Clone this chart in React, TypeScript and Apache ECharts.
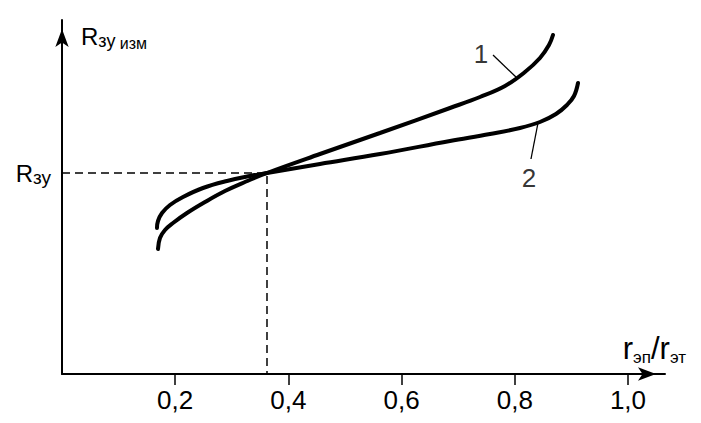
import React, { useEffect, useRef } from "react";
import * as echarts from "echarts";

// x values: r_эп / r_эт ; y values: R_зу изм (arbitrary units, axis 0..354)
const curve1X = [0.1696, 0.1731, 0.1820, 0.1961, 0.2208, 0.2527, 0.2880, 0.3233, 0.3622, 0.4558, 0.5618, 0.6855, 0.7385, 0.7827, 0.8180, 0.8445, 0.8604, 0.8675];
const curve1Y = [125, 136, 144, 151, 161, 172, 183, 192, 201, 220, 241, 266, 277, 288, 302, 316, 329, 339];
const curve2X = [0.1678, 0.1696, 0.1767, 0.1908, 0.2138, 0.2491, 0.2915, 0.3322, 0.3622, 0.4558, 0.5618, 0.6855, 0.7562, 0.8092, 0.8445, 0.8728, 0.8922, 0.9046, 0.9117];
const curve2Y = [146, 153, 161, 169, 177, 186, 193, 198, 201, 210, 220, 233, 240, 246, 252, 260, 269, 278, 291];

const xTicks = [0.2, 0.4, 0.6, 0.8, 1.0];
const xMax = 1.0654;
const yMax = 354;
const rzuX = 0.3622; // intersection point
const rzuY = 201;

const leader1 = [[0.7615, 319], [0.8039, 296]];
const leader2 = [[0.8286, 215], [0.841, 251]];
const label1 = [0.7403, 320];
const label2 = [0.8251, 196];

const FONT = "Liberation Sans, Arial, sans-serif";

export default function App() {
  const ref = useRef<HTMLDivElement>(null);
  useEffect(() => {
    if (!ref.current) return;
    const chart = echarts.init(ref.current, null, { renderer: "svg" });
    const zip = (xs: number[], ys: number[]) => xs.map((x, i) => [x, ys[i]]);
    const curveStyle = { color: "#000", width: 4, cap: "round" as const };
    chart.setOption({
      animation: false,
      backgroundColor: "#fff",
      textStyle: { fontFamily: FONT, color: "#000" },
      grid: { left: 62, right: 36, top: 20, bottom: 49, containLabel: false },
      xAxis: {
        type: "value",
        min: 0,
        max: xMax,
        name: "{r|r}{s|эп}{r|/r}{s|эт}",
        nameLocation: "end",
        nameGap: 21,
        nameTextStyle: {
          align: "right",
          verticalAlign: "bottom",
          padding: [0, 0, 10, 0],
          rich: {
            r: { fontSize: 31, fontFamily: FONT, color: "#000", verticalAlign: "bottom" },
            s: { fontSize: 17, fontFamily: FONT, color: "#000", verticalAlign: "bottom", padding: [0, 0, -2, 0] },
          },
        },
        axisLine: {
          show: true,
          symbol: ["none", "arrow"],
          symbolSize: [10, 18],
          symbolOffset: [0, -9],
          lineStyle: { color: "#000", width: 2 },
        },
        axisTick: { show: true, length: 11, lineStyle: { color: "#000", width: 1.5 }, customValues: xTicks },
        axisLabel: {
          customValues: xTicks,
          margin: 13,
          fontSize: 26,
          fontFamily: FONT,
          color: "#000",
          formatter: (v: number) => v.toFixed(1).replace(".", ","),
        },
        splitLine: { show: false },
      },
      yAxis: {
        type: "value",
        min: 0,
        max: yMax,
        name: "{r|R}{s|зу}{t| изм}",
        nameLocation: "end",
        nameGap: -16,
        nameTextStyle: {
          align: "left",
          verticalAlign: "middle",
          padding: [0, 0, 0, 19],
          rich: {
            r: { fontSize: 24, fontFamily: FONT, color: "#000", verticalAlign: "bottom" },
            s: { fontSize: 18, fontFamily: FONT, color: "#000", verticalAlign: "bottom", padding: [0, 0, -2, 0] },
            t: { fontSize: 16, fontFamily: FONT, color: "#000", verticalAlign: "bottom", padding: [0, 0, -3, 0] },
          },
        },
        axisLine: {
          show: true,
          symbol: ["none", "arrow"],
          symbolSize: [10, 18],
          symbolOffset: [0, -9],
          lineStyle: { color: "#000", width: 2 },
        },
        axisTick: { show: false },
        axisLabel: {
          customValues: [rzuY],
          margin: 11,
          formatter: () => "{r|R}{s|зу}",
          rich: {
            r: { fontSize: 24, fontFamily: FONT, color: "#000", verticalAlign: "bottom" },
            s: { fontSize: 19, fontFamily: FONT, color: "#000", verticalAlign: "bottom", padding: [0, 0, -2, 0] },
          },
        },
        splitLine: { show: false },
      },
      series: [
        {
          type: "line",
          data: [[0, rzuY], [rzuX, rzuY], [rzuX, 0]],
          showSymbol: false,
          lineStyle: { color: "#000", width: 1.5, type: [8, 5] },
          z: 1,
        },
        {
          type: "line",
          data: zip(curve1X, curve1Y),
          smooth: 0.4,
          showSymbol: false,
          lineStyle: curveStyle,
          z: 3,
        },
        {
          type: "line",
          data: zip(curve2X, curve2Y),
          smooth: 0.4,
          showSymbol: false,
          lineStyle: curveStyle,
          z: 3,
        },
        { type: "line", data: leader1, showSymbol: false, lineStyle: { color: "#000", width: 1.3 }, z: 2 },
        { type: "line", data: leader2, showSymbol: false, lineStyle: { color: "#000", width: 1.3 }, z: 2 },
        {
          type: "scatter",
          data: [
            { value: label1, name: "1" },
            { value: label2, name: "2" },
          ],
          symbolSize: 1,
          itemStyle: { color: "rgba(0,0,0,0)" },
          label: {
            show: true,
            position: "inside",
            formatter: (p: any) => p.name,
            fontSize: 26,
            fontFamily: FONT,
            color: "#000",
          },
          z: 4,
        },
      ],
    });
    return () => chart.dispose();
  }, []);
  return (
    <div
      ref={ref}
      style={{ position: "absolute", left: 0, top: 0, width: 701, height: 423, background: "#fff" }}
    />
  );
}
